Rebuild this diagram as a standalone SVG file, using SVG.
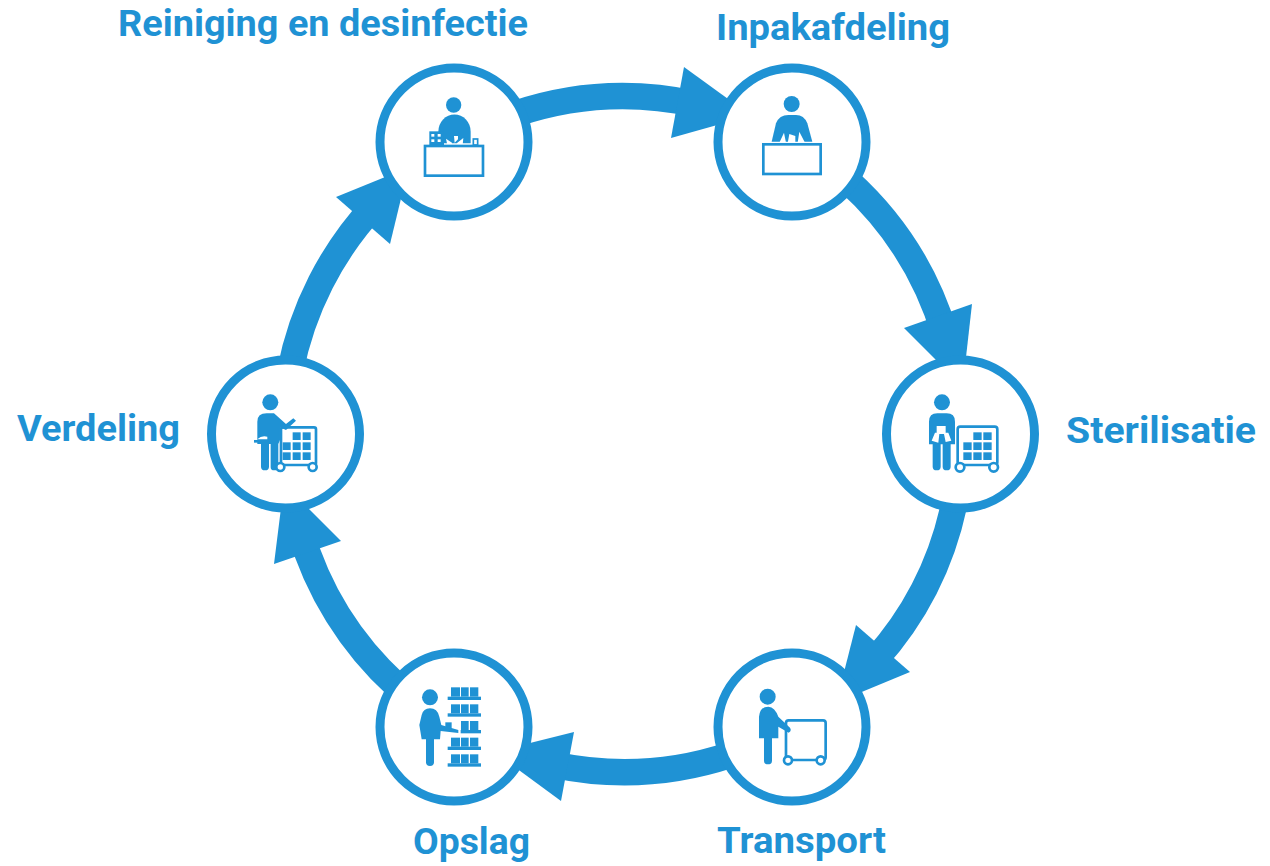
<svg xmlns="http://www.w3.org/2000/svg" width="1270" height="866" viewBox="0 0 1270 866">
<style>
.b{fill:#1f92d4}
.w{fill:#fff}
.ring{fill:#fff;stroke:#1f92d4;stroke-width:9}
.shaft{fill:none;stroke:#1f92d4;stroke-width:26.5}
.o{fill:#fff;stroke:#1f92d4;stroke-width:8}
.l{font-family:"Roboto","Liberation Sans",sans-serif;font-weight:700;font-size:36px;fill:#1f92d4}
</style>
<rect width="1270" height="866" fill="#fff"/>
<g id="connectors">
<path class="shaft" d="M515 114A338 338 0 0 1 695 104"/><polygon class="b" points="684,67 735,104 735,120 671,138"/>
<path class="shaft" d="M848 181A338 338 0 0 1 945 335"/><polygon class="b" points="972,304 965,366 945,369 904,328"/>
<path class="shaft" d="M955 500A338 338 0 0 1 875 660"/><polygon class="b" points="856,625 910,672 852,696 842,680"/>
<path class="shaft" d="M730 755A338 338 0 0 1 555 765"/><polygon class="b" points="574,732 522,745 512,765 561,801"/>
<path class="shaft" d="M397 686A338 338 0 0 1 300 530"/><polygon class="b" points="341,541 300,500 282,500 274,564"/>
<path class="shaft" d="M290 372A338 338 0 0 1 375 205"/><polygon class="b" points="336,197 395,173 405,182 390,244"/>
</g>
<g id="node-reiniging">
<circle class="ring" cx="454" cy="142" r="74"/>
<g transform="translate(370 60) scale(.3333)">
<circle class="b" cx="251" cy="135" r="23"/>
<path class="b" d="M205 250V215A47 50 0 0 1 302 215V250Z"/>
<rect class="b" x="178" y="214" width="44" height="42"/><rect class="w" x="184" y="222" width="9" height="8"/><rect class="w" x="203" y="222" width="9" height="8"/><rect class="w" x="184" y="238" width="9" height="8"/><rect class="w" x="203" y="238" width="9" height="8"/>
<path class="w" d="M228 236L246 248V255H232ZM252 228H264V238L254 248ZM262 248L280 234L278 255H258Z"/>
<rect class="o" x="310" y="237" width="13" height="18" style="stroke-width:5"/>
<rect class="o" x="165" y="258" width="174" height="89"/>
</g>
<text class="l" x="118" y="36" textLength="410" lengthAdjust="spacingAndGlyphs">Reiniging en desinfectie</text>
</g>
<g id="node-inpak">
<circle class="ring" cx="792" cy="142" r="74"/>
<g transform="translate(710 60) scale(.3333)">
<circle class="b" cx="245" cy="132" r="24"/>
<path class="b" d="M185 245L198 190Q208 165 235 165H258Q282 165 292 190L307 245Z"/>
<path class="w" d="M208 248L222 218L228 248ZM233 250L238 222L256 228V250ZM263 248L268 215L285 248Z"/>
<rect class="o" x="160" y="253" width="172" height="89"/>
</g>
<text class="l" x="716" y="40" textLength="234" lengthAdjust="spacingAndGlyphs">Inpakafdeling</text>
</g>
<g id="node-sterilisatie">
<circle class="ring" cx="960.5" cy="434" r="74"/>
<g transform="translate(880 350) scale(.3333)">
<circle class="b" cx="186" cy="157" r="24"/>
<path class="b" d="M147 283V215Q147 190 172 190H200Q225 190 225 215V283H212V350Q212 361 200 361T188 350V283H182V350Q182 361 170 361T158 350V283Z"/>
<path class="w" d="M170 228H197V248H205L214 272L197 276L192 252H178L175 278L155 272L165 248H170Z"/>
<rect class="o" x="233" y="230" width="119" height="115" rx="8"/>
<g class="b"><rect x="250" y="277" width="25" height="23"/><rect x="280" y="277" width="25" height="23"/><rect x="310" y="277" width="25" height="23"/><rect x="250" y="307" width="25" height="23"/><rect x="280" y="307" width="25" height="23"/><rect x="310" y="307" width="25" height="23"/><rect x="280" y="247" width="25" height="23"/><rect x="310" y="247" width="25" height="23"/></g>
<circle class="o" cx="240" cy="352" r="13"/><circle class="o" cx="341" cy="352" r="13"/>
</g>
<text class="l" x="1066" y="443" textLength="190" lengthAdjust="spacingAndGlyphs">Sterilisatie</text>
</g>
<g id="node-transport">
<circle class="ring" cx="792" cy="727" r="74"/>
<g transform="translate(710 645) scale(.3333)">
<rect class="o" x="228" y="226" width="119" height="119" rx="8"/>
<circle class="o" cx="234" cy="346" r="12"/><circle class="o" cx="332" cy="346" r="12"/>
<circle class="b" cx="173" cy="155" r="24"/>
<path class="b" d="M147 280V215Q150 185 175 185Q195 187 205 215L240 248Q246 258 236 263L205 245V280H186V348Q186 358 174 358T162 348V280Z"/>
</g>
<text class="l" x="717" y="853" textLength="169" lengthAdjust="spacingAndGlyphs">Transport</text>
</g>
<g id="node-opslag">
<circle class="ring" cx="454" cy="727" r="74"/>
<g transform="translate(370 645) scale(.3333)">
<circle class="b" cx="180" cy="157" r="24"/>
<path class="b" d="M155 283L148 240L155 210Q160 190 180 190Q202 190 208 215L214 240L265 255V264L212 258L210 283H192V352Q192 363 180 363T168 352V283Z"/>
<g class="b">
<rect x="233" y="155" width="100" height="10"/><rect x="233" y="205" width="100" height="10"/><rect x="272" y="255" width="61" height="10"/><rect x="233" y="305" width="100" height="10"/><rect x="233" y="355" width="100" height="10"/>
<rect x="243" y="127" width="27" height="28"/><rect x="273" y="127" width="23" height="28"/><rect x="300" y="127" width="25" height="28"/>
<rect x="243" y="178" width="27" height="27"/><rect x="273" y="178" width="23" height="27"/><rect x="300" y="178" width="25" height="27"/>
<rect x="273" y="228" width="23" height="27"/><rect x="300" y="228" width="25" height="27"/>
<rect x="243" y="278" width="27" height="27"/><rect x="273" y="278" width="23" height="27"/><rect x="300" y="278" width="25" height="27"/>
<rect x="243" y="328" width="27" height="27"/><rect x="273" y="328" width="23" height="27"/><rect x="300" y="328" width="25" height="27"/>
<path d="M226 232H245V250H226Z"/>
</g>
</g>
<text class="l" x="413" y="854" textLength="117" lengthAdjust="spacingAndGlyphs">Opslag</text>
</g>
<g id="node-verdeling">
<circle class="ring" cx="285.5" cy="434" r="74"/>
<g transform="translate(200 350) scale(.3333)">
<rect class="o" x="243" y="232" width="105" height="113" rx="6"/>
<g class="b"><rect x="278" y="247" width="24" height="23"/><rect x="308" y="247" width="24" height="23"/><rect x="248" y="277" width="24" height="23"/><rect x="278" y="277" width="24" height="23"/><rect x="308" y="277" width="24" height="23"/><rect x="248" y="307" width="24" height="23"/><rect x="278" y="307" width="24" height="23"/><rect x="308" y="307" width="24" height="23"/></g>
<circle class="b" cx="211" cy="157" r="24"/>
<path class="b" d="M172 270V215Q172 190 200 190H222L258 222L280 205L288 212L258 240L240 232V270L235 282V350Q235 361 223 361T212 350V282H207V350Q207 361 195 361T183 350V282H172Z"/>
<rect class="b" x="162" y="270" width="45" height="8"/>
<path class="w" d="M172 268Q185 255 202 260V268Z"/>
<circle class="o" cx="241" cy="351" r="12"/><circle class="o" cx="338" cy="351" r="12"/>
</g>
<text class="l" x="17" y="441" textLength="163" lengthAdjust="spacingAndGlyphs">Verdeling</text>
</g>
</svg>
